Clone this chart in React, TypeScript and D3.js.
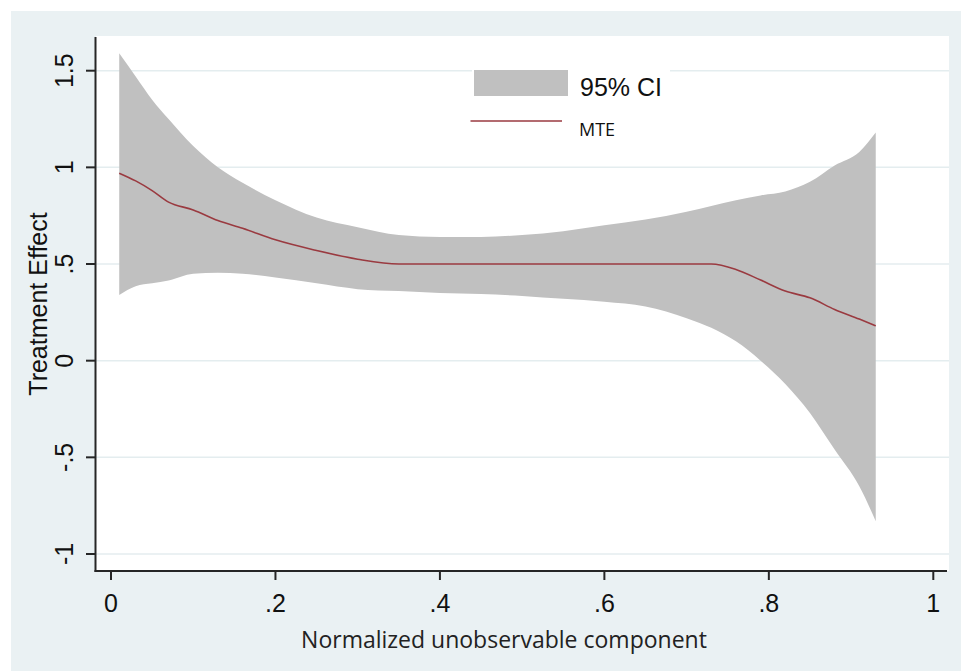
import React from "react";
import * as d3 from "d3";

const xGrid = [0.01, 0.03, 0.05, 0.07, 0.1, 0.13, 0.16, 0.2, 0.25, 0.3, 0.35, 0.4, 0.45, 0.5, 0.55, 0.6, 0.65, 0.7, 0.73, 0.76, 0.79, 0.82, 0.85, 0.88, 0.91, 0.93];
const ciUpper = [1.59, 1.47, 1.35, 1.25, 1.11, 1.0, 0.92, 0.83, 0.74, 0.69, 0.65, 0.64, 0.64, 0.65, 0.67, 0.7, 0.73, 0.77, 0.8, 0.83, 0.855, 0.875, 0.925, 1.01, 1.08, 1.18];
const ciLower = [0.34, 0.385, 0.4, 0.415, 0.45, 0.455, 0.45, 0.43, 0.4, 0.37, 0.36, 0.35, 0.345, 0.335, 0.32, 0.305, 0.28, 0.22, 0.17, 0.1, 0.0, -0.12, -0.27, -0.46, -0.65, -0.83];
const mteValues = [0.97, 0.93, 0.88, 0.82, 0.78, 0.725, 0.685, 0.625, 0.57, 0.525, 0.5, 0.5, 0.5, 0.5, 0.5, 0.5, 0.5, 0.5, 0.5, 0.472, 0.417, 0.36, 0.325, 0.265, 0.215, 0.18];
const yTicks = [-1, -0.5, 0, 0.5, 1, 1.5];
const yTickLabels = ["-1", "-.5", "0", ".5", "1", "1.5"];
const xTicks = [0, 0.2, 0.4, 0.6, 0.8, 1];
const xTickLabels = ["0", ".2", ".4", ".6", ".8", "1"];

const W = 961;
const H = 671;
const BG = "#EAF1F3";
const GRID = "#E4EDEF";
const AXIS = "#262626";
const MAROON = "#9A3A40";
const BAND = "#C0C0C0";
const ARIAL = "'Liberation Sans', Arial, sans-serif";
const SEGOE = "'Open Sans', 'Noto Sans', sans-serif";

export default function App() {
  const x = d3.scaleLinear().domain([0, 1]).range([111, 933.3]);
  const y = d3.scaleLinear().domain([-1, 1.5]).range([554, 70.7]);
  const plot = { left: 96, right: 949, top: 36, bottom: 571 };

  const rows = xGrid.map((u, i) => ({ u, hi: ciUpper[i], lo: ciLower[i], m: mteValues[i] }));
  const area = d3
    .area<any>()
    .x((d) => x(d.u))
    .y0((d) => y(d.lo))
    .y1((d) => y(d.hi))
    .curve(d3.curveMonotoneX);
  const line = d3
    .line<any>()
    .x((d) => x(d.u))
    .y((d) => y(d.m))
    .curve(d3.curveMonotoneX);

  return (
    <div style={{ position: "absolute", left: 0, top: 0 }}>
      <svg width={W} height={H} style={{ display: "block" }}>
        <rect x={0} y={0} width={W} height={H} fill="#ffffff" />
        <rect x={11} y={11} width={W - 11} height={H - 11} fill={BG} />
        <rect x={plot.left} y={plot.top} width={plot.right - plot.left} height={plot.bottom - plot.top} fill="#ffffff" />
        {yTicks.map((t) => (
          <line key={"g" + t} x1={plot.left} x2={plot.right} y1={y(t)} y2={y(t)} stroke={GRID} strokeWidth={1.5} />
        ))}
        <path d={area(rows) || ""} fill={BAND} stroke="none" />
        <path d={line(rows) || ""} fill="none" stroke={MAROON} strokeWidth={1.6} />

        {/* legend */}
        <rect x={472} y={58} width={198} height={92} fill="#ffffff" />
        <rect x={474} y={70} width={94} height={26} fill={BAND} />
        <text x={580} y={96} fontFamily={ARIAL} fontSize={25} fill="#111">95% CI</text>
        <line x1={470.5} x2={562} y1={121} y2={121} stroke={MAROON} strokeWidth={1.6} />
        <text x={579} y={136} fontFamily={SEGOE} fontSize={18} fill="#111">MTE</text>

        {/* axes */}
        <line x1={95.5} x2={95.5} y1={plot.top + 1} y2={plot.bottom + 1} stroke={AXIS} strokeWidth={2} />
        <line x1={94.5} x2={947} y1={571} y2={571} stroke={AXIS} strokeWidth={2} />
        {yTicks.map((t, i) => (
          <g key={"y" + t}>
            <line x1={86} x2={95} y1={y(t)} y2={y(t)} stroke={AXIS} strokeWidth={2} />
            <text
              transform={`translate(73,${y(t)}) rotate(-90)`}
              textAnchor="middle"
              fontFamily={ARIAL}
              fontSize={25}
              fill="#111"
            >
              {yTickLabels[i]}
            </text>
          </g>
        ))}
        {xTicks.map((t, i) => (
          <g key={"x" + t}>
            <line x1={x(t)} x2={x(t)} y1={571} y2={580} stroke={AXIS} strokeWidth={2} />
            <text x={x(t)} y={612} textAnchor="middle" fontFamily={ARIAL} fontSize={25} fill="#111">
              {xTickLabels[i]}
            </text>
          </g>
        ))}
        <text
          transform={`translate(47,304) rotate(-90)`}
          textAnchor="middle"
          fontFamily={ARIAL}
          fontSize={25}
          fill="#111"
        >
          Treatment Effect
        </text>
        <text x={504} y={648} textAnchor="middle" fontFamily={SEGOE} fontSize={23} fill="#222">
          Normalized unobservable component
        </text>
      </svg>
    </div>
  );
}
